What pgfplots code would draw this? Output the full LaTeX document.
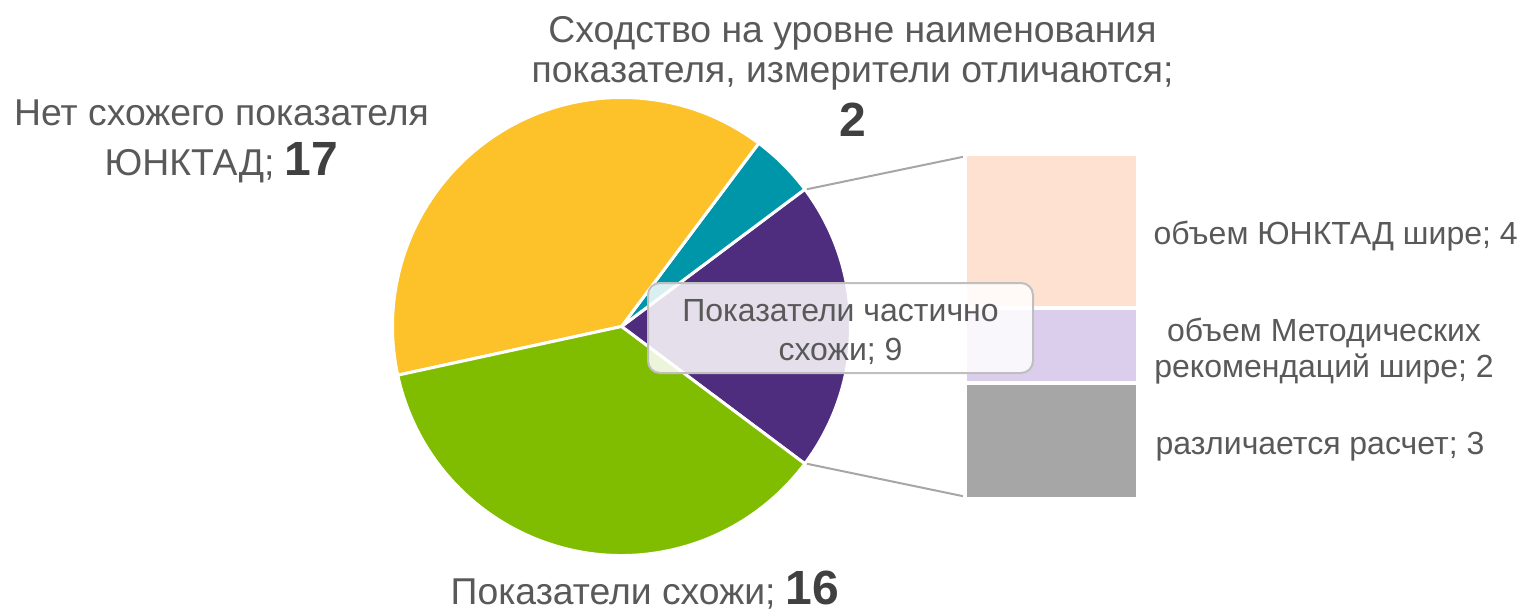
\documentclass[border=0pt]{standalone}
\usepackage{pgfplots}
\pgfplotsset{compat=1.18}
\usepackage{fontspec}
\setmainfont{Liberation Sans}
\definecolor{cYellow}{HTML}{FDC12A}
\definecolor{cTeal}{HTML}{0096A9}
\definecolor{cPurple}{HTML}{4E2C7E}
\definecolor{cGreen}{HTML}{80BD01}
\definecolor{cPeach}{HTML}{FFE1D1}
\definecolor{cLav}{HTML}{DBCDEC}
\definecolor{cGray}{HTML}{A6A6A6}
\definecolor{txt}{HTML}{595959}
\definecolor{txtb}{HTML}{404040}
\definecolor{lineg}{HTML}{A6A6A6}
\newcommand{\lblbig}{\fontsize{11.2}{13}\selectfont}
\newcommand{\bnum}{\fontsize{14.4}{16}\selectfont\bfseries\color{txtb}}
\newcommand{\lblsmall}{\fontsize{9.6}{11}\selectfont}
% pie values (counter-clockwise from the split slice)
\def\vP{9}\def\vT{2}\def\vY{17}\def\vG{16}
% bar values (bottom to top)
\def\bA{3}\def\bB{2}\def\bC{4}
\begin{document}
\begin{tikzpicture}
\pgfmathsetmacro{\tot}{\vP+\vT+\vY+\vG}
\pgfmathsetmacro{\aS}{-180*\vP/\tot}
\pgfmathsetmacro{\aP}{\aS+360*\vP/\tot}
\pgfmathsetmacro{\aT}{\aP+360*\vT/\tot}
\pgfmathsetmacro{\aY}{\aT+360*\vY/\tot}
\pgfmathsetmacro{\aG}{\aY+360*\vG/\tot}
\pgfmathsetmacro{\uu}{341/(\bA+\bB+\bC)}
\pgfmathsetmacro{\yA}{114+\uu*\bA}
\pgfmathsetmacro{\yB}{\yA+\uu*\bB}
\pgfmathsetmacro{\yC}{\yB+\uu*\bC}
\pgfmathsetmacro{\cxu}{621.5+229*cos(\aP)}
\pgfmathsetmacro{\cyu}{284.5+229*sin(\aP)}
\pgfmathsetmacro{\cyl}{284.5+229*sin(\aS)}
\begin{axis}[x=0.3pt,y=0.3pt,xmin=0,xmax=1519,ymin=0,ymax=611,
  hide axis,clip=false,scale only axis]
\coordinate (BL) at (axis cs:0,0);
\coordinate (TR) at (axis cs:1519,611);
% pie
\filldraw[fill=cPurple,draw=white,line width=0.9pt] (axis cs:621.5,284.5) -- ++(\aS:68.7pt) arc[start angle=\aS,end angle=\aP,radius=68.7pt] -- cycle;
\filldraw[fill=cTeal,draw=white,line width=0.9pt] (axis cs:621.5,284.5) -- ++(\aP:68.7pt) arc[start angle=\aP,end angle=\aT,radius=68.7pt] -- cycle;
\filldraw[fill=cYellow,draw=white,line width=0.9pt] (axis cs:621.5,284.5) -- ++(\aT:68.7pt) arc[start angle=\aT,end angle=\aY,radius=68.7pt] -- cycle;
\filldraw[fill=cGreen,draw=white,line width=0.9pt] (axis cs:621.5,284.5) -- ++(\aY:68.7pt) arc[start angle=\aY,end angle=\aG,radius=68.7pt] -- cycle;
% connector lines
\draw[lineg,line width=0.6pt] (axis cs:\cxu+2,\cyu) -- (axis cs:967,455);
\draw[lineg,line width=0.6pt] (axis cs:\cxu+2,\cyl) -- (axis cs:967,114);
% bar
\filldraw[fill=cGray,draw=white,line width=1.2pt] (axis cs:965,112) rectangle (axis cs:1138,\yA);
\filldraw[fill=cLav,draw=white,line width=1.2pt] (axis cs:965,\yA) rectangle (axis cs:1138,\yB);
\filldraw[fill=cPeach,draw=white,line width=1.2pt] (axis cs:965,\yB) rectangle (axis cs:1138,\yC+2);
% label box
\node[draw=black!25,line width=0.6pt,fill=white,fill opacity=0.85,rounded corners=3.6pt,
  minimum width=115.5pt,minimum height=27pt,inner sep=0pt] at (axis cs:840.5,283) {};
\node[anchor=base,text=txt,font=\lblsmall] at (axis cs:840.5,290) {Показатели частично};
\node[anchor=base,text=txt,font=\lblsmall] at (axis cs:840.5,251) {схожи; 9};
% top label
\node[anchor=base,text=txt,font=\lblbig] at (axis cs:852.5,569) {Сходство на уровне наименования};
\node[anchor=base,text=txt,font=\lblbig] at (axis cs:852.5,529) {показателя, измерители отличаются;};
\node[anchor=base,font=\bnum] at (axis cs:853,475) {2};
% left label
\node[anchor=base,text=txt,font=\lblbig] at (axis cs:221.5,486) {Нет схожего показателя};
\node[anchor=base,text=txt,font=\lblbig] at (axis cs:221.5,436) {ЮНКТАД; {\bnum 17}};
% bottom label
\node[anchor=base,text=txt,font=\lblbig] at (axis cs:645,7) {Показатели схожи; {\bnum 16}};
% side labels
\node[anchor=base west,text=txt,font=\lblsmall,inner sep=0pt] at (axis cs:1153,367) {объем ЮНКТАД шире; 4};
\node[anchor=base,text=txt,font=\lblsmall] at (axis cs:1324,270) {объем Методических};
\node[anchor=base,text=txt,font=\lblsmall] at (axis cs:1324,234) {рекомендаций шире; 2};
\node[anchor=base west,text=txt,font=\lblsmall,inner sep=0pt] at (axis cs:1155,157) {различается расчет; 3};
\end{axis}
\pgfresetboundingbox
\useasboundingbox (BL) rectangle (TR);
\end{tikzpicture}
\end{document}
